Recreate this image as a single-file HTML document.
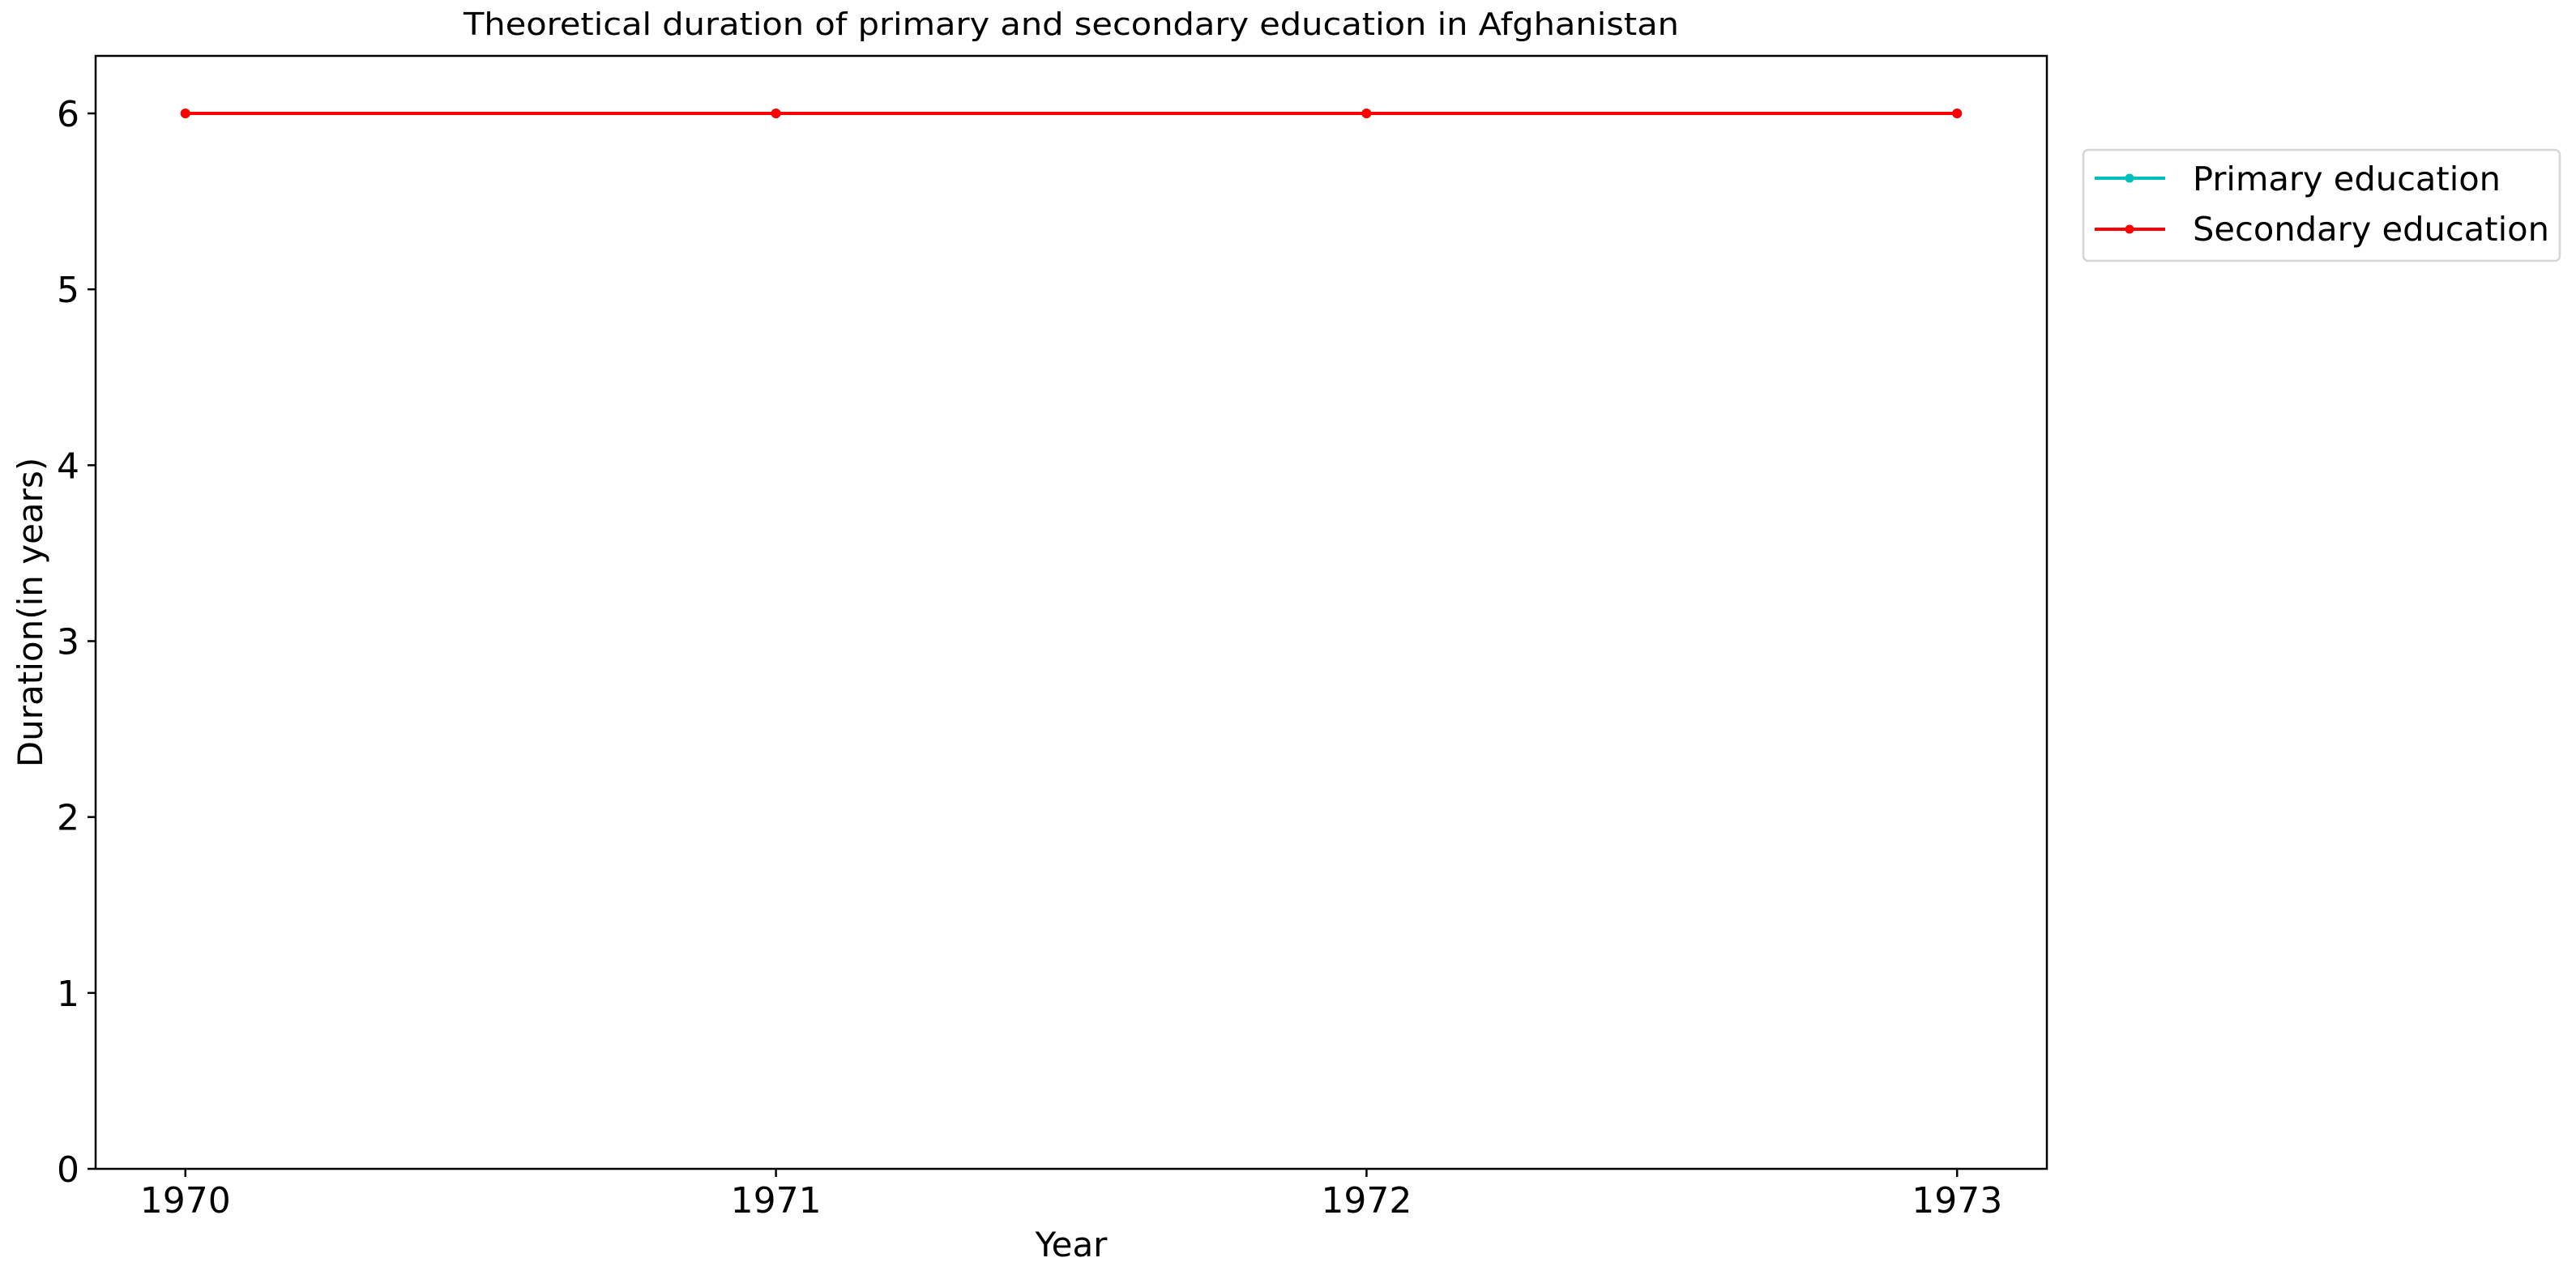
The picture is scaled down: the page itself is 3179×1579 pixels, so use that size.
<!DOCTYPE html>
<html><head><meta charset="utf-8"><style>
html,body{margin:0;padding:0;background:#fff;}
svg{display:block;font-family:"DejaVu Sans","Liberation Sans",sans-serif;}
</style></head><body>
<svg id="chart" width="3179" height="1579" viewBox="0 0 3179 1579" xmlns="http://www.w3.org/2000/svg">
<rect width="3179" height="1579" fill="#fff"/>
<text x="1322" y="43" font-size="38" text-anchor="middle" textLength="1500" lengthAdjust="spacingAndGlyphs">Theoretical duration of primary and secondary education in Afghanistan</text>
<g id="plot"></g>
<rect x="118" y="69" width="2408" height="1374" fill="none" stroke="#000" stroke-width="2.5"/>
<text x="1322" y="1551" font-size="42" text-anchor="middle">Year</text>
<text transform="translate(52,756) rotate(-90)" font-size="42" text-anchor="middle">Duration(in years)</text>
<g>
<rect x="2571" y="185" width="588" height="137" rx="6" fill="#fff" stroke="#d6d6d6" stroke-width="2.5"/>
<g>
<line x1="2585" y1="220" x2="2672" y2="220" stroke="#00bfbf" stroke-width="4"/>
<circle cx="2628" cy="220" r="5.5" fill="#00bfbf"/>
<text x="2706" y="235" font-size="41" textLength="380" lengthAdjust="spacingAndGlyphs">Primary education</text>
</g>
<g>
<line x1="2585" y1="283" x2="2672" y2="283" stroke="#ff0000" stroke-width="4"/>
<circle cx="2628" cy="283" r="5.5" fill="#ff0000"/>
<text x="2706" y="297" font-size="41" textLength="440" lengthAdjust="spacingAndGlyphs">Secondary education</text>
</g>
</g>
</svg>
<script>
const years = [1970, 1971, 1972, 1973];
const primary = [6, 6, 6, 6];
const secondary = [6, 6, 6, 6];
const yTicks = [0, 1, 2, 3, 4, 5, 6];

const X0 = 118, X1 = 2526, Y0 = 1443, Y1 = 69;
const xMin = 1969.848, xMax = 1973.152, yMin = 0, yMax = 6.327;
function sx(v){ return X0 + (v - xMin) / (xMax - xMin) * (X1 - X0); }
function sy(v){ return Y0 - (v - yMin) / (yMax - yMin) * (Y0 - Y1); }
const NS = "http://www.w3.org/2000/svg";
const g = document.getElementById('plot');
function mk(tag, attrs, parent){
  const e = document.createElementNS(NS, tag);
  for (const k in attrs) e.setAttribute(k, attrs[k]);
  (parent || g).appendChild(e);
  return e;
}
years.forEach(function(yr){
  const t = mk('line', {x1: sx(yr), x2: sx(yr), y1: Y0, y2: Y0 + 10, stroke: '#000', 'stroke-width': 2.5});
  
  
  const l = mk('text', {x: sx(yr), y: 1497, 'font-size': 44, 'text-anchor': 'middle'});
  
  
  l.textContent = yr;
});
yTicks.forEach(function(v){
  const t = mk('line', {x1: X0 - 10, x2: X0, y1: sy(v), y2: sy(v), stroke: '#000', 'stroke-width': 2.5});
  
  
  const l = mk('text', {x: 98, y: sy(v) + 16, 'font-size': 44, 'text-anchor': 'end'});
  
  
  l.textContent = v;
});
function series(vals, color, name){
  const grp = mk('g', {});
  
  
  const pts = vals.map(function(v, i){ return sx(years[i]) + ',' + sy(v); }).join(' ');
  const pl = mk('polyline', {points: pts, fill: 'none', stroke: color, 'stroke-width': 4}, grp);
  
  
  vals.forEach(function(v, i){
    const c = mk('circle', {cx: sx(years[i]), cy: sy(v), r: 6, fill: color}, grp);
    
    
  });
}
series(primary, '#00bfbf', 'primary-series');
series(secondary, '#ff0000', 'secondary-series');
</script>
</body></html>
